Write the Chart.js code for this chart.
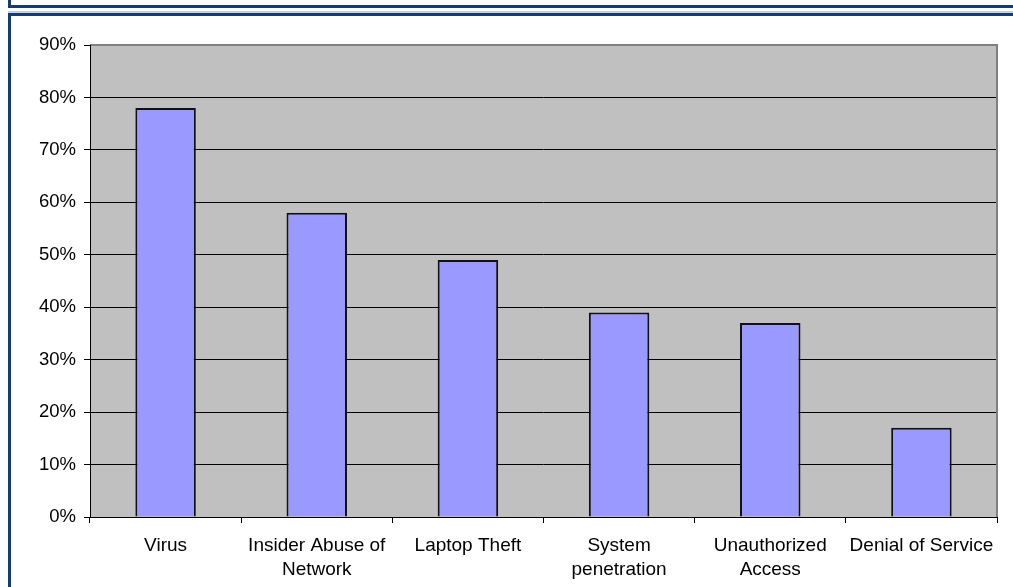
<!DOCTYPE html>
<html>
<head>
<meta charset="utf-8">
<script src="https://cdn.jsdelivr.net/npm/chart.js@4/dist/chart.umd.min.js"></script>
<style>
  html, body { margin: 0; padding: 0; background: #fff; }
  body { width: 1013px; height: 587px; position: relative; overflow: hidden; }
  .top-box { position: absolute; left: 8px; top: -10px; width: 1010px; height: 15px;
             border-left: 3px solid #143c72; border-bottom: 3px solid #143c72; }
  .main-box { position: absolute; left: 8px; top: 13px; width: 1010px; height: 600px;
              border-left: 3px solid #143c72; border-top: 3px solid #143c72;
              box-shadow: 0 -2px 0 #c8cfd9; }
  #wrap { position: absolute; left: 0; top: 0; width: 1013px; height: 587px; }
  #chart { display: block; }
</style>
</head>
<body>
<div class="top-box"></div>
<div class="main-box"></div>
<div id="wrap"><canvas id="chart" width="1013" height="587"></canvas></div>
<script>
/* ========== Data ========== */
const categories = [
  'Virus',
  ['Insider Abuse of', 'Network'],
  'Laptop Theft',
  ['System', 'penetration'],
  ['Unauthorized', 'Access'],
  'Denial of Service'
];
const values = [78, 58, 49, 39, 37, 17];
const yTicks = [0, 10, 20, 30, 40, 50, 60, 70, 80, 90];

/* ========== Plot background + frame ========== */
const plotAreaPlugin = {
  id: 'plotArea',
  beforeDraw(chart) {
    const { ctx, chartArea: a } = chart;
    ctx.save();
    ctx.fillStyle = '#c0c0c0';
    ctx.fillRect(a.left, a.top, a.right - a.left, a.bottom - a.top);
    ctx.restore();
  },
  afterDraw(chart) {
    const { ctx, chartArea: a } = chart;
    ctx.save();
    ctx.strokeStyle = '#808080';
    ctx.lineWidth = 2;
    ctx.beginPath();
    ctx.moveTo(a.left, a.top);
    ctx.lineTo(a.right, a.top);
    ctx.lineTo(a.right, a.bottom);
    ctx.stroke();
    ctx.strokeStyle = '#000';
    ctx.lineWidth = 1;
    ctx.beginPath();
    ctx.moveTo(a.left + 0.5, a.top);
    ctx.lineTo(a.left + 0.5, a.bottom + 0.5);
    ctx.lineTo(a.right, a.bottom + 0.5);
    ctx.stroke();
    ctx.restore();
  }
};

Chart.defaults.font.family = "'Liberation Sans', Arial, sans-serif";
Chart.defaults.font.size = 18.5;
Chart.defaults.color = '#000';

new Chart(document.getElementById('chart'), {
  type: 'bar',
  data: {
    labels: categories,
    datasets: [{
      data: values,
      backgroundColor: '#9999ff',
      borderColor: '#111',
      borderWidth: 2,
      barPercentage: 0.4,
      categoryPercentage: 1
    }]
  },
  options: {
    responsive: false,
    animation: false,
    layout: { padding: { left: 0, right: 16, top: 45, bottom: 0 } },
    plugins: { legend: { display: false }, tooltip: { enabled: false } },
    scales: {
      x: {
        offset: true,
        grid: { offset: true, drawOnChartArea: false, color: '#000', tickLength: 6, tickColor: '#000' },
        border: { display: false },
        ticks: { padding: 11, maxRotation: 0, autoSkip: false, font: { size: 19, lineHeight: 1.26 } },
        afterFit(s) { s.height = 70; }
      },
      y: {
        min: 0,
        max: 90,
        afterBuildTicks(s) { s.ticks = yTicks.map(v => ({ value: v })); },
        grid: { color: '#000', lineWidth: 1, tickLength: 6, tickColor: '#000' },
        border: { display: false },
        ticks: { padding: 8, callback: v => v + '%' },
        afterFit(s) { s.width = 90; }
      }
    }
  },
  plugins: [plotAreaPlugin]
});
</script>
</body>
</html>
